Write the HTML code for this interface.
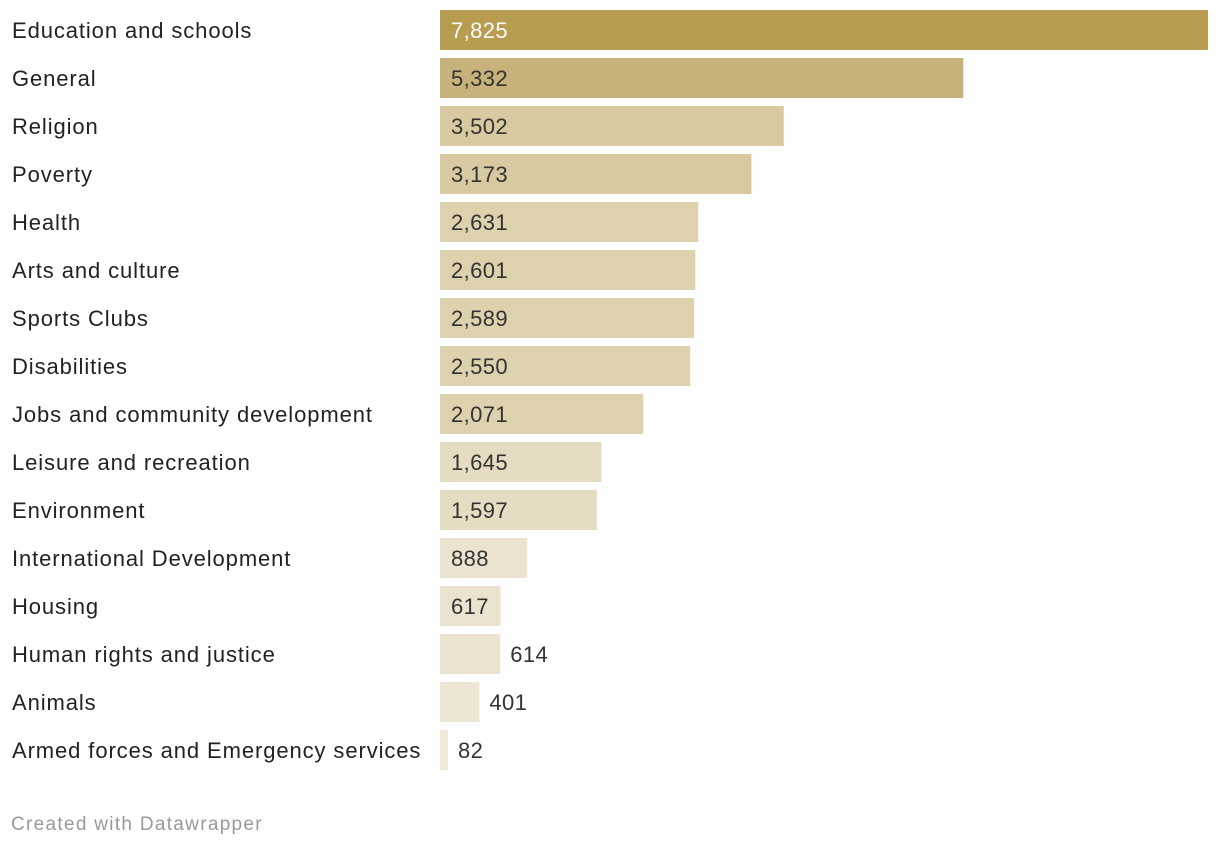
<!DOCTYPE html>
<html><head><meta charset="utf-8">
<style>
html,body{margin:0;padding:0;background:#fff;width:1220px;height:846px;overflow:hidden;font-family:"Liberation Sans",sans-serif;}
svg text{font-family:"Liberation Sans",sans-serif;}
</style></head>
<body>
<svg id="chart" width="1220" height="846" xmlns="http://www.w3.org/2000/svg"></svg>
<script>
const categories = ["Education and schools","General","Religion","Poverty","Health","Arts and culture","Sports Clubs","Disabilities","Jobs and community development","Leisure and recreation","Environment","International Development","Housing","Human rights and justice","Animals","Armed forces and Emergency services"];
const values = [7825,5332,3502,3173,2631,2601,2589,2550,2071,1645,1597,888,617,614,401,82];
const maxValue = 7825;

const svg = document.getElementById('chart');
const NS = 'http://www.w3.org/2000/svg';
const x0 = 440, plotW = 768, top0 = 10, pitch = 48, barH = 40;
const xScale = v => v / maxValue * plotW;
function mix(a,b,t){const p=s=>[1,3,5].map(i=>parseInt(s.substr(i,2),16));const A=p(a),B=p(b);return 'rgb('+A.map((c,i)=>Math.round(c+(B[i]-c)*t)).join(',')+')';}
function color(v){
  if(v>=6000) return '#b89c50';
  if(v>=4000) return '#c8b27b';
  if(v>=3000) return '#d8c9a0';
  if(v>=2000) return '#ded1ae';
  if(v>=1000) return '#e6dcc2';
  if(v>=500) return '#ebe3cf';
  return mix('#f0eadc','#ede5d2',v/500);
}
categories.forEach((c,i)=>{
  const y = top0 + i*pitch;
  const lbl = document.createElementNS(NS,'text');
  
  
  lbl.setAttribute('x',12); lbl.setAttribute('y',y+28);
  lbl.setAttribute('font-size','22'); lbl.setAttribute('fill','#222');
  lbl.setAttribute('letter-spacing','0.9');
  lbl.textContent = c; svg.appendChild(lbl);
  const w = xScale(values[i]);
  const r = document.createElementNS(NS,'rect');
  
  
  r.setAttribute('x',x0); r.setAttribute('y',y);
  r.setAttribute('width',w); r.setAttribute('height',barH);
  r.setAttribute('fill',color(values[i])); svg.appendChild(r);
  const t = document.createElementNS(NS,'text');
  
  
  const inside = w > 60.4;
  t.setAttribute('x', inside ? x0+11 : x0+w+10);
  t.setAttribute('y', y+28);
  t.setAttribute('font-size','22');
  t.setAttribute('letter-spacing','0.4');
  t.setAttribute('fill', i===0 ? '#ffffff' : '#333');
  t.textContent = values[i].toLocaleString('en-US');
  svg.appendChild(t);
});
const f = document.createElementNS(NS,'text');


f.setAttribute('x',11); f.setAttribute('y',830);
f.setAttribute('font-size','19'); f.setAttribute('fill','#999');
f.setAttribute('letter-spacing','1.3');
f.textContent = 'Created with Datawrapper';
svg.appendChild(f);
</script>
</body></html>
